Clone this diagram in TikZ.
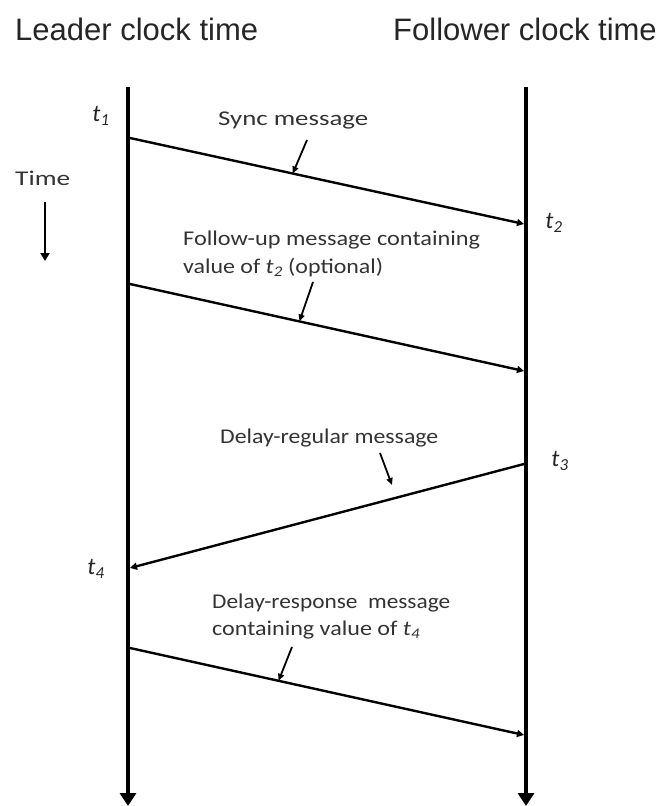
\documentclass[tikz,border=0pt]{standalone}
\usepackage{fontspec}
\usepackage{graphicx}
\setmainfont{Carlito}
\newfontfamily\headfont{Liberation Sans}
\usetikzlibrary{arrows.meta,calc}
\newcommand{\wbox}[2]{\resizebox{#1pt}{\height}{#2}}
\begin{document}
\begin{tikzpicture}[x=1pt,y=-1pt,
  lifeline/.style={line width=4pt,-{Triangle[width=16pt,length=13pt]}},
  msg/.style={line width=2.4pt,-{Triangle[width=7pt,length=7pt]}},
  pointer/.style={line width=1.8pt,-{Triangle[width=6pt,length=7pt]}},
  timearrow/.style={line width=2pt,-{Triangle[width=9pt,length=8pt]}},
  head/.style={font=\headfont\fontsize{31}{36}\selectfont, text=black!85, inner sep=0pt},
  lbl/.style={font=\fontsize{21}{28}\selectfont, text=black!80, inner sep=0pt, align=left},
  tlbl/.style={font=\fontsize{24}{28}\selectfont\itshape, text=black!85, inner sep=0pt}]
\useasboundingbox (0,0) rectangle (663,806);

% headers
\node[head, anchor=base west] (hl) at (15,40) {Leader clock time};
\node[head, anchor=base west] (hf) at (393,40) {Follower clock time};

% lifelines
\coordinate (Ltop) at (128,87);
\coordinate (Lbot) at (128,806);
\coordinate (Ftop) at (526,87);
\coordinate (Fbot) at (526,806);
\draw[lifeline] (Ltop) -- (Lbot);
\draw[lifeline] (Ftop) -- (Fbot);

% time indicator
\node[lbl, anchor=base west] (time) at (15,185) {\wbox{55}{Time}};
\coordinate (timestart) at (45,202);
\coordinate (timeend) at (45,261);
\draw[timearrow] (timestart) -- (timeend);

% t labels
\node[tlbl] (t1) at (101,116) {t\textsubscript{1}};
\node[tlbl] (t2) at (554,223) {t\textsubscript{2}};
\node[tlbl] (t3) at (560,461) {t\textsubscript{3}};
\node[tlbl] (t4) at (96,569) {t\textsubscript{4}};

% messages
\coordinate (s1) at (130,138);  \coordinate (e1) at (524,224);
\coordinate (s2) at (130,284);  \coordinate (e2) at (524,371);
\coordinate (s3) at (524,464);  \coordinate (e3) at (130,568);
\coordinate (s4) at (130,648);  \coordinate (e4) at (524,735);
\draw[msg] (s1) -- (e1);
\draw[msg] (s2) -- (e2);
\draw[msg] (s3) -- (e3);
\draw[msg] (s4) -- (e4);

% message labels
\node[lbl, anchor=base west] (l1) at (218,125) {\wbox{150}{Sync message}};
\node[lbl, anchor=base west] (l2) at (183,273)
  {\wbox{297}{Follow-up message containing}\\
   \wbox{200}{value of \textit{t}\textsubscript{\textit{2}} (optional)}};
\node[lbl, anchor=base west] (l3) at (220,443) {\wbox{218}{Delay-regular message}};
\node[lbl, anchor=base west, font=\fontsize{21}{27}\selectfont] (l4) at (212,635)
  {\wbox{238}{Delay-response\ \ message}\\
   \wbox{208}{containing value of \textit{t}\textsubscript{\textit{4}}}};

% pointers
\coordinate (p1s) at (307,140); \coordinate (p1e) at ($(s1)!0.413!(e1)$);
\coordinate (p2s) at (313,282); \coordinate (p2e) at ($(s2)!0.43!(e2)$);
\coordinate (p3s) at (380,453); \coordinate (p3e) at (392,485);
\coordinate (p4s) at (292,647); \coordinate (p4e) at ($(s4)!0.377!(e4)$);
\draw[pointer] (p1s) -- (p1e);
\draw[pointer] (p2s) -- (p2e);
\draw[pointer] (p3s) -- (p3e);
\draw[pointer] (p4s) -- (p4e);
\end{tikzpicture}
\end{document}
